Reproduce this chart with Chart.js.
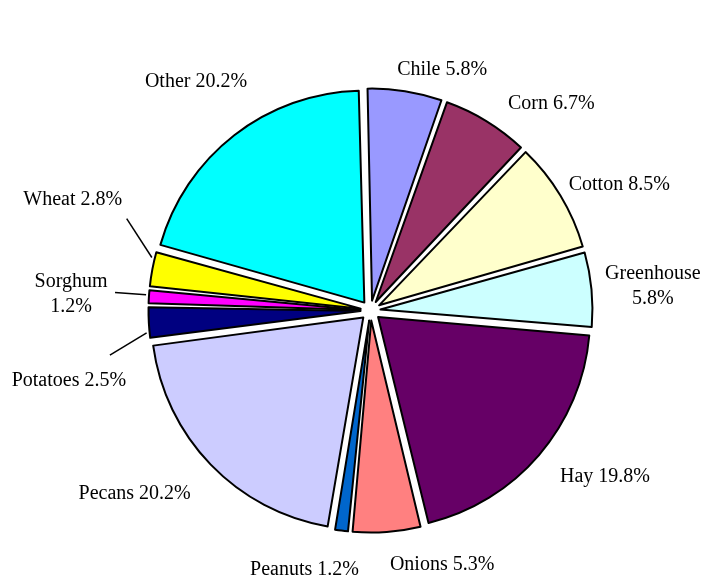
<!DOCTYPE html>
<html>
<head>
<meta charset="utf-8">
<script src="https://cdn.jsdelivr.net/npm/chart.js@4.4.1/dist/chart.umd.min.js"></script>
<style>
  body { margin: 0; background: #fff; }
  #wrap { width: 708px; height: 580px; }
</style>
</head>
<body>
<div id="wrap"><canvas id="cropChart" width="708" height="580"></canvas></div>
<script>
const crops = ['Chile', 'Corn', 'Cotton', 'Greenhouse', 'Hay', 'Onions', 'Peanuts',
               'Pecans', 'Potatoes', 'Sorghum', 'Wheat', 'Other'];
const shares = [5.8, 6.7, 8.5, 5.8, 19.8, 5.3, 1.2, 20.2, 2.5, 1.2, 2.8, 20.2];
const sliceColors = ['#9999ff', '#993366', '#ffffcc', '#ccffff', '#660066', '#ff8080',
                     '#0066cc', '#ccccff', '#000080', '#ff00ff', '#ffff00', '#00ffff'];
const twoLineLabels = ['Greenhouse', 'Sorghum'];
const leaderLabels = ['Wheat', 'Sorghum', 'Potatoes'];

const pieRadius = 212;

// label tweaks, relative to a point out along each slice's middle
const labelNudge = {
    Chile: [30, 24], Corn: [41, 22], Cotton: [19.5, 13], Greenhouse: [15.5, 1],
    Hay: [31, -8], Onions: [52, -13], Peanuts: [-31, -6], Pecans: [-43, -3],
    Potatoes: [-34, 56], Sorghum: [-32, 0], Wheat: [-34.5, -61], Other: [-10, -17]
};
const leaderStart = { Wheat: [54, 19], Sorghum: [44, -1.5], Potatoes: [41, -26] };

// chart.js grows exploded arcs by part of the offset; keep every slice the same size
const evenRadius = {
    id: 'evenRadius',
    beforeDatasetsDraw(chart) {
        chart.getDatasetMeta(0).data.forEach(function (arc) {
            const shift = arc.options.offset / 4;
            const fix = 1 - Math.sin(Math.min(Math.PI, arc.circumference));
            arc.outerRadius = pieRadius - shift * fix;
        });
    }
};

const pieLabels = {
    id: 'pieLabels',
    afterDatasetsDraw(chart) {
        const ctx = chart.ctx;
        const arcs = chart.getDatasetMeta(0).data;
        ctx.save();
        ctx.font = '20px "Liberation Serif", "Times New Roman", serif';
        ctx.fillStyle = '#000';
        ctx.strokeStyle = '#000';
        ctx.lineWidth = 1.5;
        ctx.textAlign = 'center';
        ctx.textBaseline = 'middle';
        arcs.forEach(function (arc, i) {
            const mid = (arc.startAngle + arc.endAngle) / 2;
            const shift = arc.options.offset / 4;
            const name = crops[i];
            const n = labelNudge[name] || [0, 0];
            const dist = pieRadius + 56;
            const lx = arc.x + Math.cos(mid) * dist + n[0];
            const ly = arc.y + Math.sin(mid) * dist + n[1];
            const pct = shares[i].toFixed(1) + '%';
            if (twoLineLabels.includes(name)) {
                ctx.fillText(name, lx, ly - 12.5);
                ctx.fillText(pct, lx, ly + 12.5);
            } else {
                ctx.fillText(name + ' ' + pct, lx, ly);
            }
            if (leaderLabels.includes(name)) {
                const sx = lx + leaderStart[name][0];
                const sy = ly + leaderStart[name][1];
                // point on the slice rim nearest the label, kept off the corners
                const cx = arc.x + Math.cos(mid) * shift;
                const cy = arc.y + Math.sin(mid) * shift;
                let a = Math.atan2(sy - cy, sx - cx);
                while (a < mid - Math.PI) a += Math.PI * 2;
                while (a > mid + Math.PI) a -= Math.PI * 2;
                const span = arc.endAngle - arc.startAngle;
                a = Math.min(Math.max(a, arc.startAngle + span * 0.2), arc.endAngle - span * 0.2);
                const r = pieRadius + 3;
                ctx.beginPath();
                ctx.moveTo(sx, sy);
                ctx.lineTo(cx + Math.cos(a) * r, cy + Math.sin(a) * r);
                ctx.stroke();
            }
        });
        ctx.restore();
    }
};

const cropCtx = document.getElementById('cropChart').getContext('2d');
const cropChart = new Chart(cropCtx, {
    type: 'pie',
    data: {
        labels: crops,
        datasets: [{
            data: shares,
            backgroundColor: sliceColors,
            borderColor: '#000000',
            borderWidth: 2,
            borderJoinStyle: 'round',
            offset: 40,
            radius: pieRadius
        }]
    },
    options: {
        responsive: false,
        animation: false,
        events: [],
        rotation: -1.5,
        layout: { padding: { left: 40, right: 7, top: 50, bottom: 9 } },
        plugins: {
            legend: { display: false },
            tooltip: { enabled: false }
        }
    },
    plugins: [evenRadius, pieLabels]
});
</script>
</body>
</html>
